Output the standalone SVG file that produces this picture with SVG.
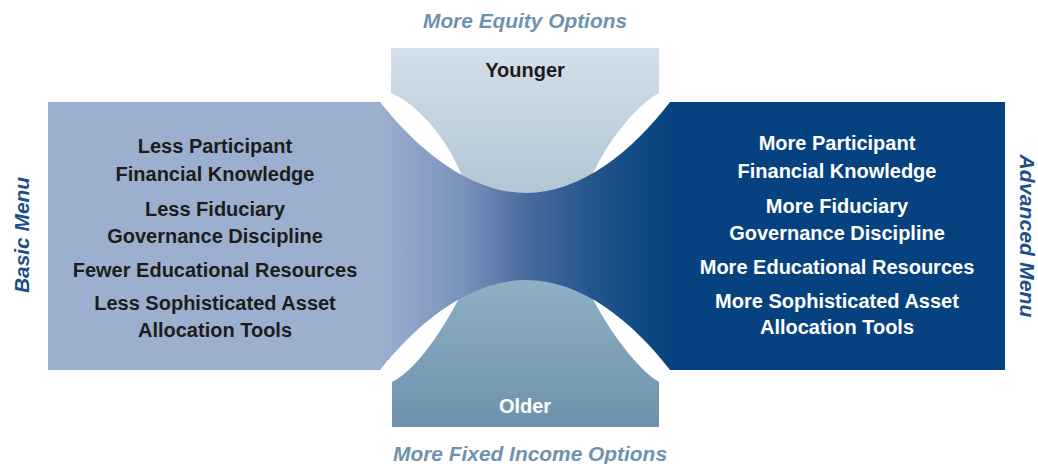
<svg xmlns="http://www.w3.org/2000/svg" width="1038" height="464" viewBox="0 0 1038 464">
  <defs>
    <linearGradient id="bandGrad" gradientUnits="userSpaceOnUse" x1="378" y1="0" x2="672" y2="0">
      <stop offset="0" stop-color="#9cafcf"/>
      <stop offset="0.3" stop-color="#7890bb"/>
      <stop offset="0.5" stop-color="#4a6c9f"/>
      <stop offset="0.75" stop-color="#21538c"/>
      <stop offset="1" stop-color="#06427f"/>
    </linearGradient>
    <linearGradient id="topGrad" gradientUnits="userSpaceOnUse" x1="0" y1="48" x2="0" y2="195">
      <stop offset="0" stop-color="#d3dfe9"/>
      <stop offset="1" stop-color="#b2c5d4"/>
    </linearGradient>
    <linearGradient id="bottomGrad" gradientUnits="userSpaceOnUse" x1="0" y1="278" x2="0" y2="427">
      <stop offset="0" stop-color="#8fb0c5"/>
      <stop offset="1" stop-color="#6d92ad"/>
    </linearGradient>
  </defs>
  <style>
    .item { font-family: "Liberation Sans", Arial, sans-serif; font-weight: bold; font-size: 20px; text-anchor: middle; }
    .dark { fill: #1c1c1c; }
    .light { fill: #ffffff; }
    .axis { font-family: "Liberation Sans", Arial, sans-serif; font-weight: bold; font-style: italic; font-size: 20.5px; text-anchor: middle; fill: #6f93ae; }
    .menu { font-family: "Liberation Sans", Arial, sans-serif; font-weight: bold; font-style: italic; font-size: 20px; text-anchor: middle; fill: #1d4f8a; }
  </style>

  <rect width="1038" height="464" fill="#ffffff"/>

  <!-- age shapes (their lower/upper ends are covered by the band) -->
  <g id="younger">
    <path d="M391,48 H659 V93 C638,104 600,145 580,205 L472,205 C455,140 415,103 391,93 Z" fill="url(#topGrad)"/>
    <text class="item dark" x="525" y="77" font-size="19">Younger</text>
  </g>
  <g id="older">
    <path d="M392,427 H659 V382 C635,368 600,320 578,268 L474,268 C450,320 420,368 392,382 Z" fill="url(#bottomGrad)"/>
    <text class="item light" x="525" y="413">Older</text>
  </g>

  <!-- horizontal menu band with curved waist -->
  <g id="band">
    <path d="M48,102 H380 C418,150 470,193 526,193 C582,193 633,150 670,102 H1005 V370 H670 C633,322 582,280 526,280 C470,280 418,322 380,370 H48 Z" fill="url(#bandGrad)"/>
    <rect x="48" y="102" width="331" height="268" fill="#9cafcf"/>
    <rect x="672" y="102" width="333" height="268" fill="#06427f"/>
  </g>

  <g id="basic-items">
    <text class="item dark" x="215" y="153">Less Participant</text>
    <text class="item dark" x="215" y="181">Financial Knowledge</text>
    <text class="item dark" x="215" y="216">Less Fiduciary</text>
    <text class="item dark" x="215" y="243">Governance Discipline</text>
    <text class="item dark" x="215" y="277">Fewer Educational Resources</text>
    <text class="item dark" x="215" y="310">Less Sophisticated Asset</text>
    <text class="item dark" x="215" y="337">Allocation Tools</text>
  </g>

  <g id="advanced-items">
    <text class="item light" x="837" y="150">More Participant</text>
    <text class="item light" x="837" y="178">Financial Knowledge</text>
    <text class="item light" x="837" y="213">More Fiduciary</text>
    <text class="item light" x="837" y="240">Governance Discipline</text>
    <text class="item light" x="837" y="274">More Educational Resources</text>
    <text class="item light" x="837" y="308">More Sophisticated Asset</text>
    <text class="item light" x="837" y="334">Allocation Tools</text>
  </g>

  <g id="axis-labels">
    <text class="axis" x="525" y="28" textLength="204" lengthAdjust="spacingAndGlyphs">More Equity Options</text>
    <text class="axis" x="530" y="461" textLength="274" lengthAdjust="spacingAndGlyphs">More Fixed Income Options</text>
  </g>

  <g id="basic-menu">
    <text class="menu" transform="translate(29,235) rotate(-90)" textLength="116" lengthAdjust="spacingAndGlyphs">Basic Menu</text>
  </g>
  <g id="advanced-menu">
    <text class="menu" transform="translate(1020,236) rotate(90)" textLength="163" lengthAdjust="spacingAndGlyphs">Advanced Menu</text>
  </g>
</svg>
